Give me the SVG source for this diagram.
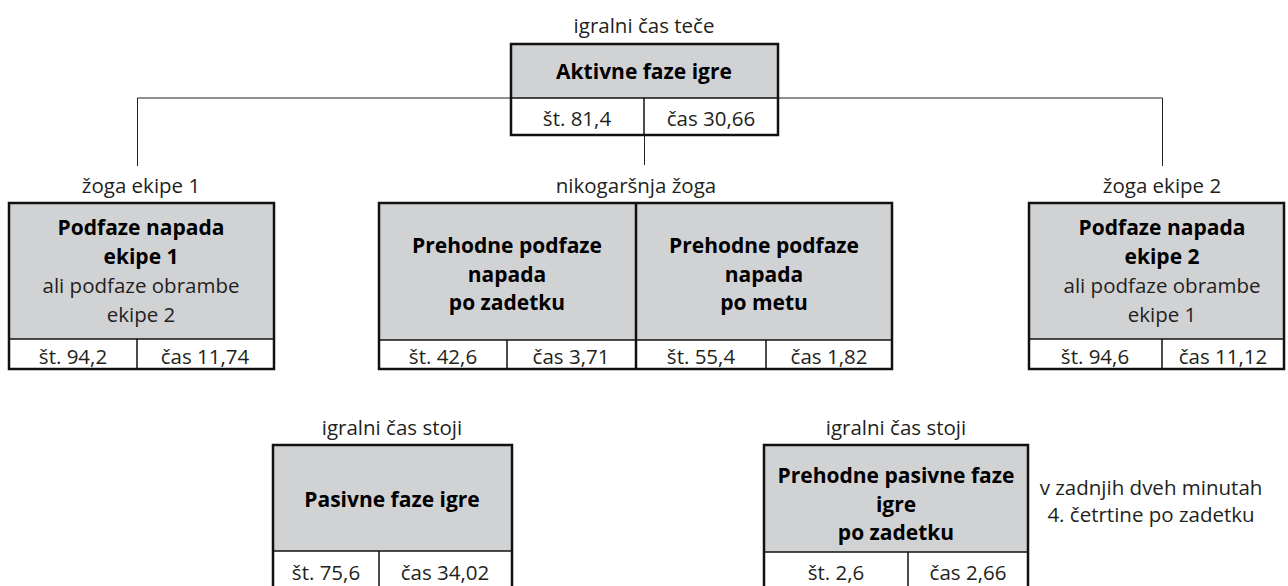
<svg xmlns="http://www.w3.org/2000/svg" width="1288" height="586" viewBox="0 0 1288 586">
<style>
text{font-family:"Open Sans","Noto Sans","Liberation Sans",sans-serif;font-size:20.5px;fill:#231f20;text-anchor:middle}
.b{font-weight:bold;fill:#000;font-size:21px}
.g{fill:#d1d2d4;stroke:none}
.w{fill:#fff;stroke:none}
.frame{fill:none;stroke:#111;stroke-width:2.5}
.div{stroke:#111;stroke-width:1.5}
.ln{stroke:#222;stroke-width:1;fill:none}
</style>
<rect width="1288" height="586" fill="#fff"/>
<g id="connectors">
<path class="ln" d="M137.5,166 V98 H1162.5 V166"/>
<path class="ln" d="M644.5,135 V165"/>
</g>
<g id="aktivne">
<text x="644" y="33">igralni čas teče</text>
<rect class="g" x="511" y="44" width="267" height="54"/>
<rect class="w" x="511" y="98" width="267" height="37"/>
<line class="div" x1="511" y1="98" x2="778" y2="98"/>
<line class="div" x1="644" y1="98" x2="644" y2="135"/>
<rect class="frame" x="511" y="44" width="267" height="91"/>
<text class="b" x="644" y="79">Aktivne faze igre</text>
<text x="577" y="126">št. 81,4</text>
<text x="711" y="126">čas 30,66</text>
</g>
<g id="ekipa1">
<text x="141" y="193">žoga ekipe 1</text>
<rect class="g" x="9" y="203" width="265" height="136"/>
<rect class="w" x="9" y="339" width="265" height="30"/>
<line class="div" x1="9" y1="339" x2="274" y2="339"/>
<line class="div" x1="137" y1="339" x2="137" y2="369"/>
<rect class="frame" x="9" y="203" width="265" height="166"/>
<text class="b" x="141" y="235">Podfaze napada</text>
<text class="b" x="141" y="264">ekipe 1</text>
<text x="141" y="293">ali podfaze obrambe</text>
<text x="141" y="322">ekipe 2</text>
<text x="73" y="364">št. 94,2</text>
<text x="205" y="364">čas 11,74</text>
</g>
<g id="nikogarsnja">
<text x="636" y="193">nikogaršnja žoga</text>
<rect class="g" x="379" y="203" width="513" height="137"/>
<rect class="w" x="379" y="340" width="513" height="29"/>
<line class="div" x1="379" y1="340" x2="892" y2="340"/>
<line class="div" x1="507" y1="340" x2="507" y2="369"/>
<line class="div" x1="766" y1="340" x2="766" y2="369"/>
<line class="frame" x1="636" y1="203" x2="636" y2="369"/>
<rect class="frame" x="379" y="203" width="513" height="166"/>
<text class="b" x="507" y="253">Prehodne podfaze</text>
<text class="b" x="507" y="282">napada</text>
<text class="b" x="507" y="310">po zadetku</text>
<text class="b" x="764" y="253">Prehodne podfaze</text>
<text class="b" x="764" y="282">napada</text>
<text class="b" x="764" y="310">po metu</text>
<text x="443" y="364">št. 42,6</text>
<text x="571" y="364">čas 3,71</text>
<text x="701" y="364">št. 55,4</text>
<text x="829" y="364">čas 1,82</text>
</g>
<g id="ekipa2">
<text x="1162" y="193">žoga ekipe 2</text>
<rect class="g" x="1029" y="203" width="255" height="136"/>
<rect class="w" x="1029" y="339" width="255" height="30"/>
<line class="div" x1="1029" y1="339" x2="1284" y2="339"/>
<line class="div" x1="1162" y1="339" x2="1162" y2="369"/>
<rect class="frame" x="1029" y="203" width="255" height="166"/>
<text class="b" x="1162" y="235">Podfaze napada</text>
<text class="b" x="1162" y="264">ekipe 2</text>
<text x="1162" y="293">ali podfaze obrambe</text>
<text x="1162" y="322">ekipe 1</text>
<text x="1095" y="364">št. 94,6</text>
<text x="1223" y="364">čas 11,12</text>
</g>
<g id="pasivne">
<text x="392" y="435">igralni čas stoji</text>
<rect class="g" x="273" y="445" width="239" height="106"/>
<rect class="w" x="273" y="551" width="239" height="35"/>
<line class="div" x1="273" y1="551" x2="512" y2="551"/>
<line class="div" x1="379" y1="551" x2="379" y2="586"/>
<rect class="frame" x="273" y="445" width="239" height="145"/>
<text class="b" x="392" y="507">Pasivne faze igre</text>
<text x="326" y="580">št. 75,6</text>
<text x="445" y="580">čas 34,02</text>
</g>
<g id="prehodne-pasivne">
<text x="896" y="435">igralni čas stoji</text>
<rect class="g" x="764" y="445" width="264" height="107"/>
<rect class="w" x="764" y="552" width="264" height="34"/>
<line class="div" x1="764" y1="552" x2="1028" y2="552"/>
<line class="div" x1="908" y1="552" x2="908" y2="586"/>
<rect class="frame" x="764" y="445" width="264" height="145"/>
<text class="b" x="896" y="483">Prehodne pasivne faze</text>
<text class="b" x="896" y="512">igre</text>
<text class="b" x="896" y="540">po zadetku</text>
<text x="836" y="580">št. 2,6</text>
<text x="968" y="580">čas 2,66</text>
</g>
<g id="opomba">
<text x="1151" y="495">v zadnjih dveh minutah</text>
<text x="1151" y="522">4. četrtine po zadetku</text>
</g>
</svg>
